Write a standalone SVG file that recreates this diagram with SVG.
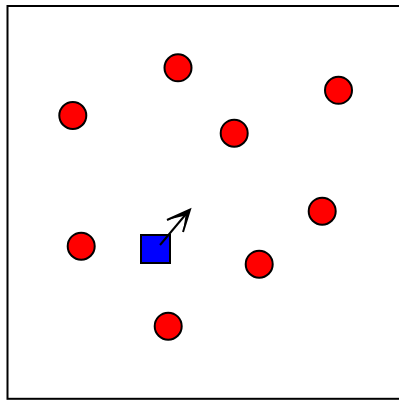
<svg xmlns="http://www.w3.org/2000/svg" width="399" height="400" viewBox="0 0 399 400">
<style>
.ball{fill:#ff0000;stroke:#000;stroke-width:2}
.agent{fill:#0000ff;stroke:#000;stroke-width:2}
.dir{fill:none;stroke:#000;stroke-width:2;stroke-linecap:butt;stroke-linejoin:miter}
</style>
<rect x="7.5" y="6" width="400" height="392.8" fill="#fff" stroke="#000" stroke-width="2"/>
<g id="ball1"><circle class="ball" cx="72.8" cy="115.5" r="13.5"/></g>
<g id="ball2"><circle class="ball" cx="178" cy="67.8" r="13.5"/></g>
<g id="ball3"><circle class="ball" cx="338.5" cy="90.3" r="13.5"/></g>
<g id="ball4"><circle class="ball" cx="234.2" cy="133.2" r="13.5"/></g>
<g id="ball5"><circle class="ball" cx="322.2" cy="211.2" r="13.5"/></g>
<g id="ball6"><circle class="ball" cx="81.2" cy="246.2" r="13.5"/></g>
<g id="ball7"><circle class="ball" cx="259.2" cy="264.2" r="13.5"/></g>
<g id="ball8"><circle class="ball" cx="168.2" cy="326.2" r="13.5"/></g>
<g id="agent"><rect class="agent" x="141" y="235" width="29" height="28"/></g>
<g id="connectors">
<line class="dir" x1="160" y1="245" x2="189" y2="210.5"/>
<path d="M167,220 L190,209.5 L183,232 L185.5,215.5 Z" fill="#000" stroke="none"/>
<polyline class="dir" points="167,220 190,209.5 183,232"/>
</g>
</svg>
